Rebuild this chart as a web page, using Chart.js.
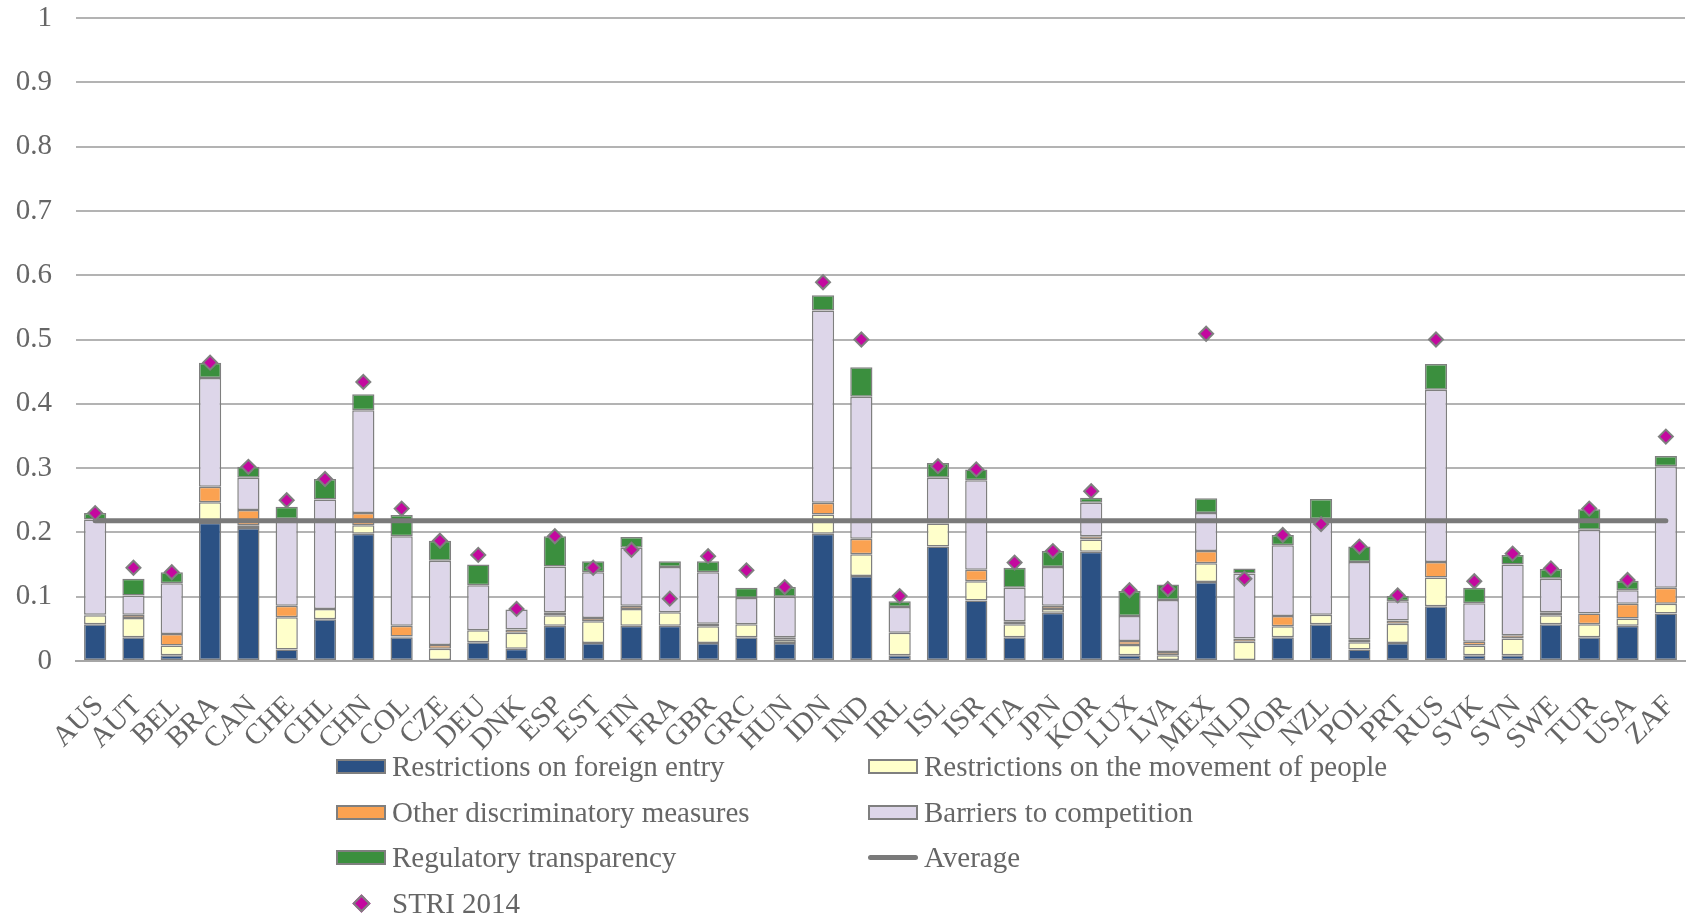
<!DOCTYPE html>
<html>
<head>
<meta charset="utf-8">
<script src="https://cdn.jsdelivr.net/npm/chart.js@4.4.1/dist/chart.umd.min.js"></script>
<style>
    body { margin: 0; background: #fff; overflow: hidden; }
    #wrap { position: relative; width: 1690px; height: 918px; overflow: hidden; }
    #stri-chart { position: absolute; left: 0; top: 0; }
    #legend {
        position: absolute; left: 336px; top: 744px;
        display: grid; grid-template-columns: 532px 520px;
        font-family: "Liberation Serif", serif; font-size: 29px; color: #666;
    }
    .item { height: 45.5px; display: flex; align-items: center; white-space: nowrap; }
    .box { width: 46px; height: 11px; border: 2px solid #7f7f7f; margin-right: 6px; }
    .bar-line { width: 50px; height: 5px; border-radius: 3px; background: #7a7a7a; margin-right: 6px; }
    .dot { width: 50px; margin-right: 6px; display: flex; justify-content: center; }
    .dot span { width: 9px; height: 9px; background: #c4089f; border: 2px solid #7f7f7f; transform: rotate(45deg); }
</style>
</head>
<body>
<div id="wrap">
    <canvas id="stri-chart" width="1694" height="918"></canvas>
    <div id="legend"></div>
</div>
<script>
var countries = ["AUS", "AUT", "BEL", "BRA", "CAN", "CHE", "CHL", "CHN", "COL", "CZE", "DEU", "DNK", "ESP", "EST",
    "FIN", "FRA", "GBR", "GRC", "HUN", "IDN", "IND", "IRL", "ISL", "ISR", "ITA", "JPN", "KOR", "LUX", "LVA", "MEX",
    "NLD", "NOR", "NZL", "POL", "PRT", "RUS", "SVK", "SVN", "SWE", "TUR", "USA", "ZAF"];

var foreignEntry = [0.057, 0.037, 0.009, 0.215, 0.207, 0.018, 0.065, 0.198, 0.037, 0, 0.029, 0.019, 0.055, 0.028,
    0.055, 0.055, 0.028, 0.037, 0.028, 0.198, 0.132, 0.009, 0.178, 0.094, 0.037, 0.075, 0.170, 0.009, 0, 0.123,
    0, 0.037, 0.057, 0.018, 0.028, 0.085, 0.009, 0.009, 0.057, 0.037, 0.055, 0.074];
var movementOfPeople = [0.014, 0.030, 0.015, 0.032, 0.004, 0.050, 0.016, 0.013, 0.001, 0.019, 0.019, 0.025, 0.016, 0.034,
    0.026, 0.021, 0.026, 0.020, 0.005, 0.030, 0.034, 0.035, 0.036, 0.030, 0.020, 0.006, 0.019, 0.016, 0.009, 0.029,
    0.030, 0.017, 0.015, 0.011, 0.030, 0.045, 0.015, 0.026, 0.014, 0.020, 0.011, 0.015];
var otherDiscriminatory = [0.001, 0.005, 0.018, 0.024, 0.024, 0.018, 0, 0.019, 0.017, 0.006, 0, 0.005, 0.005, 0.005,
    0.005, 0, 0.004, 0, 0.004, 0.018, 0.024, 0, 0.004, 0.018, 0.005, 0.005, 0.005, 0.006, 0.005, 0.019,
    0.005, 0.016, 0, 0.005, 0.005, 0.024, 0.006, 0.005, 0.005, 0.017, 0.023, 0.025];
var barriersCompetition = [0.148, 0.030, 0.079, 0.169, 0.050, 0.135, 0.170, 0.160, 0.139, 0.131, 0.070, 0.031, 0.071, 0.071,
    0.090, 0.070, 0.080, 0.041, 0.063, 0.299, 0.221, 0.040, 0.067, 0.139, 0.052, 0.060, 0.052, 0.039, 0.081, 0.059,
    0.101, 0.110, 0.149, 0.120, 0.030, 0.268, 0.060, 0.110, 0.052, 0.130, 0.021, 0.189];
var regulatoryTransparency = [0.010, 0.026, 0.017, 0.024, 0.017, 0.019, 0.032, 0.025, 0.033, 0.031, 0.032, 0, 0.047, 0.017,
    0.017, 0.009, 0.017, 0.016, 0.015, 0.024, 0.046, 0.009, 0.023, 0.017, 0.031, 0.025, 0.008, 0.039, 0.024, 0.023,
    0.008, 0.016, 0.031, 0.024, 0.008, 0.040, 0.024, 0.015, 0.015, 0.032, 0.015, 0.016];
var stri2014 = [0.230, 0.145, 0.138, 0.464, 0.302, 0.250, 0.283, 0.434, 0.237, 0.187, 0.165, 0.081, 0.194, 0.145,
    0.173, 0.097, 0.163, 0.141, 0.115, 0.589, 0.500, 0.101, 0.303, 0.298, 0.153, 0.171, 0.264, 0.110, 0.112, 0.509,
    0.128, 0.196, 0.213, 0.178, 0.102, 0.500, 0.124, 0.167, 0.144, 0.237, 0.126, 0.349];
var average = 0.218;
var yTicks = [0, 0.1, 0.2, 0.3, 0.4, 0.5, 0.6, 0.7, 0.8, 0.9, 1];

var font = { family: "'Liberation Serif', serif", size: 29 };
var textColor = "#666";
var edge = "#7f7f7f";

function bar(label, data, color) {
    return {
        type: "bar",
        label: label,
        data: data,
        backgroundColor: color,
        borderColor: edge,
        borderWidth: 1.5,
        borderSkipped: false,
        barPercentage: 0.58,
        categoryPercentage: 1,
        stack: "stri",
        order: 3,
    };
}

var context = document.getElementById("stri-chart").getContext("2d");

var myChart = new Chart(context, {
    data: {
        labels: countries,
        datasets: [
            bar("Restrictions on foreign entry", foreignEntry, "#2b5184"),
            bar("Restrictions on the movement of people", movementOfPeople, "#ffffcb"),
            bar("Other discriminatory measures", otherDiscriminatory, "#fba251"),
            bar("Barriers to competition", barriersCompetition, "#ddd6e9"),
            bar("Regulatory transparency", regulatoryTransparency, "#3b8f3e"),
            {
                type: "line",
                label: "Average",
                data: countries.map(() => average),
                borderColor: "#7a7a7a",
                borderWidth: 5,
                borderCapStyle: "round",
                pointRadius: 0,
                stack: "avg",
                order: 2,
            },
            {
                type: "line",
                label: "STRI 2014",
                data: stri2014,
                showLine: false,
                pointStyle: "rectRot",
                pointRadius: 7,
                pointBackgroundColor: "#c4089f",
                pointBorderColor: edge,
                pointBorderWidth: 2,
                stack: "points",
                order: 1,
            },
        ],
    },
    options: {
        responsive: false,
        animation: false,
        layout: { padding: { top: 18, right: 0, left: 0, bottom: 0 } },
        plugins: { legend: { display: false }, tooltip: { enabled: false } },
        scales: {
            x: {
                stacked: true,
                grid: { display: false },
                border: { color: "#a6a6a6", width: 2 },
                ticks: {
                    font: font, color: textColor, minRotation: 45, maxRotation: 45,
                    padding: 20, labelOffset: 4, autoSkip: false,
                },
                afterFit: (scale) => {
                    scale.height = 918 - 661;
                    scale.paddingLeft = 0;
                    scale.paddingRight = 0;
                },
            },
            y: {
                stacked: true,
                min: 0,
                max: 1,
                afterBuildTicks: (scale) => { scale.ticks = yTicks.map((v) => ({ value: v })); },
                grid: { color: "#b3b3b3", lineWidth: 2, drawTicks: false },
                border: { display: false },
                ticks: { font: font, color: textColor, padding: 24, callback: (v) => String(v) },
                afterFit: (scale) => {
                    scale.width = 76;
                    scale.paddingTop = 0;
                    scale.paddingBottom = 0;
                },
            },
        },
    },
});

// legend in two columns, built from the chart datasets
var legend = document.getElementById("legend");
myChart.data.datasets.forEach((ds) => {
    var item = document.createElement("div");
    item.className = "item";
    var mark = document.createElement("div");
    if (ds.label === "Average") {
        mark.className = "bar-line";
    } else if (ds.label === "STRI 2014") {
        mark.className = "dot";
        mark.appendChild(document.createElement("span"));
    } else {
        mark.className = "box";
        mark.style.background = ds.backgroundColor;
    }
    item.appendChild(mark);
    item.appendChild(document.createTextNode(ds.label));
    legend.appendChild(item);
});
</script>
</body>
</html>
